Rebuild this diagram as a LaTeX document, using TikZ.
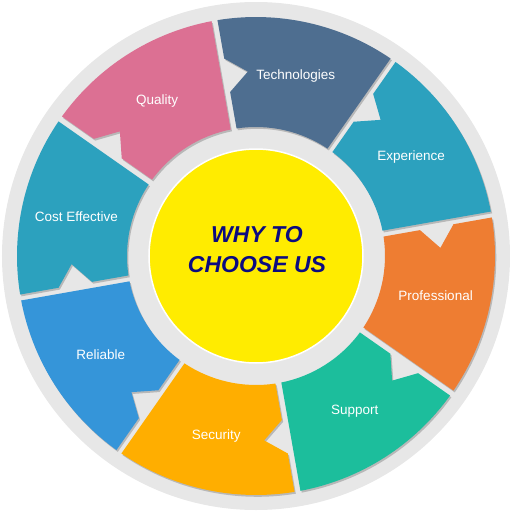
\documentclass[tikz,border=0pt]{standalone}
\usepackage{fontspec}
\setmainfont{Liberation Sans}
\usetikzlibrary{calc}
\definecolor{bggray}{HTML}{E7E7E7}
\definecolor{shadowc}{HTML}{B8B8B8}
\definecolor{cquality}{HTML}{DC7093}
\definecolor{ctech}{HTML}{4E6E90}
\definecolor{cexp}{HTML}{2CA1BE}
\definecolor{cprof}{HTML}{EE7D32}
\definecolor{csupp}{HTML}{1CBE9C}
\definecolor{csec}{HTML}{FFAE00}
\definecolor{crel}{HTML}{3595D9}
\definecolor{ccost}{HTML}{2CA1BE}
\definecolor{cyell}{HTML}{FFEC00}
\definecolor{cnavy}{HTML}{0B0B80}
\newcommand{\segshape}[2]{%
  \fill[#2] (#1+0.72:239pt) arc[start angle=#1+0.72, end angle=#1+44.28, radius=239pt]
    -- ($(#1+45:200pt)+(#1-45:3pt)$) -- ($(#1+45:183pt)+(#1-45:24pt)$)
    -- ($(#1+45:166pt)+(#1-45:3pt)$)
    -- (#1+43.67:129pt) arc[start angle=#1+43.67, end angle=#1+1.33, radius=129pt] -- cycle;}
\newcommand{\segment}[4]{%
  \begin{scope}[shift={(1.3pt,-1.8pt)}]\segshape{#1}{shadowc}\end{scope}
  \segshape{#1}{#2}
  \node[seglabel] (#4) at (#1+22.5:184pt) {#3};}
\tikzset{seglabel/.style={text=white, font=\fontsize{13.5pt}{16pt}\selectfont, inner sep=0pt}}
\begin{document}
\begin{tikzpicture}
\useasboundingbox (-256pt,-256pt) rectangle (256pt,256pt);
\fill[bggray] (0,0) circle[radius=254pt];
\segment{100}{cquality}{Quality}{quality}
\segment{55}{ctech}{Technologies}{tech}
\segment{10}{cexp}{Experience}{exp}
\segment{-35}{cprof}{Professional}{prof}
\segment{-80}{csupp}{Support}{supp}
\segment{-125}{csec}{Security}{sec}
\segment{-170}{crel}{Reliable}{rel}
\segment{145}{ccost}{Cost Effective}{cost}
\filldraw[fill=cyell, draw=white, line width=1.5pt] (0,0) circle[radius=107pt];
\node[text=cnavy, font=\fontsize{23pt}{30pt}\selectfont\bfseries\itshape, align=center, inner sep=0pt] (why) at (1pt,6pt) {WHY TO\\CHOOSE US};
\end{tikzpicture}
\end{document}
